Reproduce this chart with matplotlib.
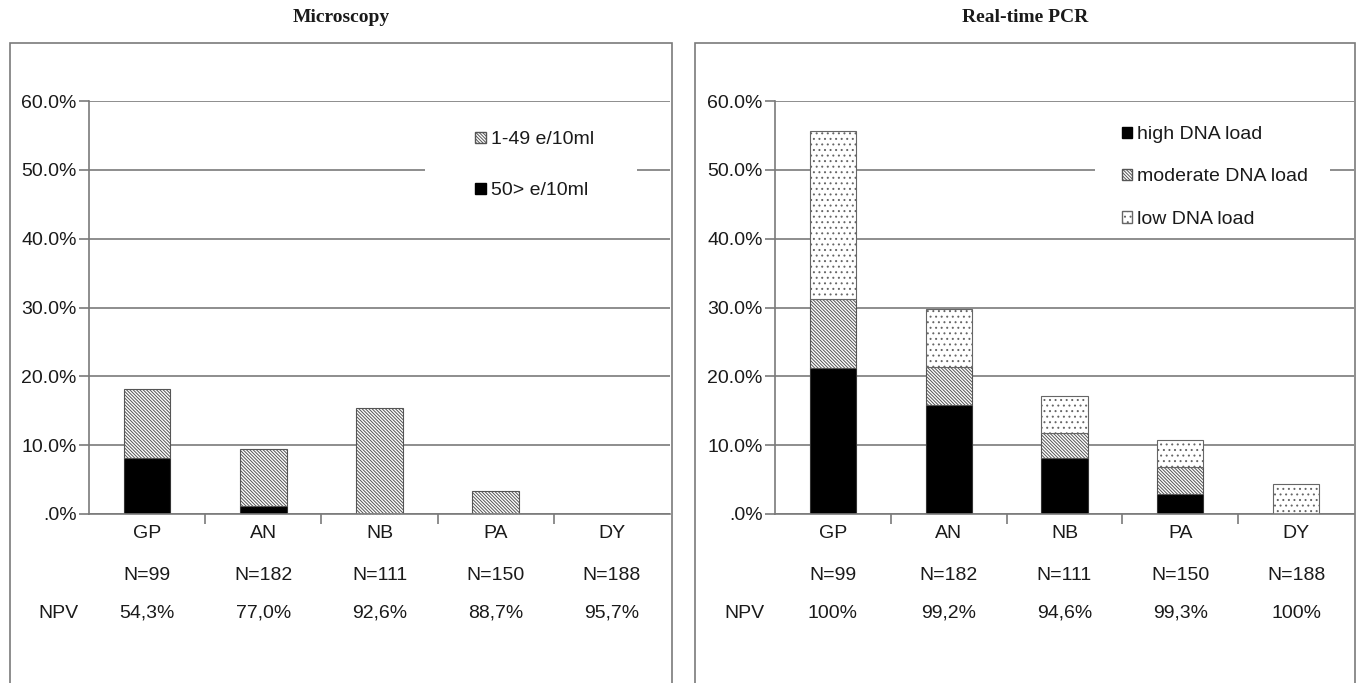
import matplotlib
matplotlib.use("Agg")
import matplotlib.pyplot as plt
from matplotlib.patches import Rectangle, Patch
from matplotlib.ticker import FuncFormatter, FixedLocator
import matplotlib.transforms as mtransforms

plt.rcParams['font.family'] = ['Liberation Sans', 'DejaVu Sans']
plt.rcParams['hatch.linewidth'] = 0.7

# data (percent)
categories = ['GP', 'AN', 'NB', 'PA', 'DY']
n_labels = ['N=99', 'N=182', 'N=111', 'N=150', 'N=188']
micro_npv = ['54,3%', '77,0%', '92,6%', '88,7%', '95,7%']
pcr_npv = ['100%', '99,2%', '94,6%', '99,3%', '100%']

micro_high = [8.1, 1.2, 0.0, 0.0, 0.0]      # 50> e/10ml
micro_low = [10.1, 8.3, 15.4, 3.4, 0.0]     # 1-49 e/10ml

pcr_high = [21.2, 15.8, 8.1, 2.9, 0.0]
pcr_moderate = [10.1, 5.5, 3.6, 3.9, 0.0]
pcr_low = [24.4, 8.5, 5.5, 4.0, 4.4]

W, H = 1358, 683
GRAY = '#7a7a7a'
TXT = '#1a1a1a'
FS = 14
HATCH = '\\' * 10
DOTS = '...'

fig = plt.figure(figsize=(W / 100, H / 100), dpi=100)

# panel frames
for x0, x1 in [(10, 672), (695, 1355)]:
    fig.patches.append(Rectangle((x0 / W, -0.1), (x1 - x0) / W, (H - 43) / H + 0.1,
                                 transform=fig.transFigure, fill=False,
                                 edgecolor=GRAY, linewidth=1.2))

fig.text(341 / W, 1 - 18 / H, 'Microscopy', ha='center', va='center',
         fontsize=14, fontweight='bold', family='Liberation Serif', color=TXT)
fig.text(1025 / W, 1 - 18 / H, 'Real-time PCR', ha='center', va='center',
         fontsize=14, fontweight='bold', family='Liberation Serif', color=TXT)

ax1 = fig.add_axes([89 / W, 169 / H, 581 / W, 413 / H])
ax2 = fig.add_axes([775 / W, 169 / H, 579 / W, 413 / H])


def style_axis(ax, npv):
    x = list(range(len(categories)))
    ax.set_xlim(-0.5, len(categories) - 0.5)
    ax.set_ylim(0, 60)
    for s in ['top', 'right']:
        ax.spines[s].set_visible(False)
    for s in ['left', 'bottom']:
        ax.spines[s].set_color(GRAY)
        ax.spines[s].set_linewidth(1.2)
    ax.set_yticks([0, 10, 20, 30, 40, 50, 60])
    ax.yaxis.set_major_formatter(FuncFormatter(
        lambda v, p: '.0%' if v == 0 else '%.1f%%' % v))
    ax.tick_params(axis='y', length=7, width=1.2, color=GRAY, pad=2,
                   labelsize=FS, labelcolor=TXT)
    ax.yaxis.grid(True, color=GRAY, linewidth=1.2)
    ax.set_axisbelow(True)
    ax.xaxis.set_major_locator(FixedLocator([i + 0.5 for i in x[:-1]]))
    ax.xaxis.set_major_formatter(FuncFormatter(lambda v, p: ''))
    ax.tick_params(axis='x', length=7, width=1.2, color=GRAY)
    trans = mtransforms.blended_transform_factory(ax.transData, ax.transAxes)
    for i in x:
        ax.text(i, -20 / 413, categories[i], transform=trans, ha='center',
                va='center', fontsize=FS, color=TXT)
        ax.text(i, -62 / 413, n_labels[i], transform=trans, ha='center',
                va='center', fontsize=FS, color=TXT)
        ax.text(i, -99 / 413, npv[i], transform=trans, ha='center',
                va='center', fontsize=FS, color=TXT)
    ax.text(-31 / 581, -99 / 413, 'NPV', transform=ax.transAxes, ha='center',
            va='center', fontsize=FS, color=TXT)
    return x


# Microscopy
x = style_axis(ax1, micro_npv)
ax1.bar(x, micro_high, 0.4, color='black', edgecolor='#333333', linewidth=0.8)
ax1.bar(x, micro_low, 0.4, bottom=micro_high, color='white', edgecolor='#555555',
        hatch=HATCH, linewidth=0.8)
ax1.add_patch(Rectangle((0.578, 0.76), 0.365, 0.19, transform=ax1.transAxes,
                        facecolor='white', edgecolor='none', zorder=1.5))
h1 = [Patch(facecolor='white', edgecolor='#555555', hatch=HATCH, label='1-49 e/10ml'),
      Patch(facecolor='black', edgecolor='black', label='50> e/10ml')]
ax1.legend(handles=h1, loc='upper left', bbox_to_anchor=(0.648, 0.95),
           frameon=False, fontsize=FS, borderpad=0, handlelength=0.55,
           handleheight=0.55, handletextpad=0.25, labelspacing=1.75,
           labelcolor=TXT)

# Real-time PCR
x = style_axis(ax2, pcr_npv)
b1 = [h + m for h, m in zip(pcr_high, pcr_moderate)]
ax2.bar(x, pcr_high, 0.4, color='black', edgecolor='#333333', linewidth=0.8)
ax2.bar(x, pcr_moderate, 0.4, bottom=pcr_high, color='white', edgecolor='#555555',
        hatch=HATCH, linewidth=0.8)
ax2.bar(x, pcr_low, 0.4, bottom=b1, color='white', edgecolor='#666666',
        hatch=DOTS, linewidth=0.8)
ax2.add_patch(Rectangle((0.553, 0.70), 0.406, 0.27, transform=ax2.transAxes,
                        facecolor='white', edgecolor='none', zorder=1.5))
h2 = [Patch(facecolor='black', edgecolor='black', label='high DNA load'),
      Patch(facecolor='white', edgecolor='#555555', hatch=HATCH, label='moderate DNA load'),
      Patch(facecolor='white', edgecolor='#666666', hatch=DOTS, label='low DNA load')]
ax2.legend(handles=h2, loc='upper left', bbox_to_anchor=(0.582, 0.962),
           frameon=False, fontsize=FS, borderpad=0, handlelength=0.55,
           handleheight=0.55, handletextpad=0.25, labelspacing=1.29,
           labelcolor=TXT)

fig.savefig('out.png', dpi=100)
